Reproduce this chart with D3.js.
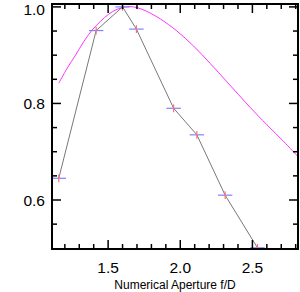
<html>
<head>
<script src="https://d3js.org/d3.v7.min.js"></script>
<style>
body { margin: 0; background: white; }
text { font-family: "Liberation Sans", Arial, sans-serif; fill: black; }
</style>
</head>
<body>
<svg id="chart" width="300" height="292"></svg>
<script>
// measured points (f/D, normalised value)
var ptX = [1.158, 1.417, 1.600, 1.696, 1.954, 2.115, 2.311, 2.535];
var ptY = [0.645, 0.951, 1.000, 0.954, 0.790, 0.735, 0.610, 0.501];
var errX = 0.05;
var errY = 0.008;

// model curve
var curveX = [1.158, 1.216, 1.274, 1.331, 1.389, 1.447, 1.504, 1.562, 1.620, 1.677, 1.735,
              1.793, 1.862, 1.977, 2.092, 2.207, 2.323, 2.484, 2.600, 2.714, 2.816];
var curveY = [0.842, 0.873, 0.900, 0.928, 0.952, 0.970, 0.985, 0.995, 1.000, 1.000, 0.995,
              0.987, 0.975, 0.950, 0.919, 0.883, 0.845, 0.792, 0.756, 0.722, 0.690];

var xMajor = [1.5, 2.0, 2.5];
var xMinor = [1.2, 1.3, 1.4, 1.6, 1.7, 1.8, 1.9, 2.1, 2.2, 2.3, 2.4, 2.6, 2.7, 2.8];
var yMajor = [0.6, 0.8, 1.0];
var yMinor = [0.55, 0.65, 0.7, 0.75, 0.85, 0.9, 0.95];

var L = 52, R = 298, T = 4, B = 249;
var x = d3.scaleLinear().domain([1.111, 2.816]).range([L, R]);
var y = d3.scaleLinear().domain([0.4985, 1.006]).range([B, T]);

var svg = d3.select('#chart');

svg.append('clipPath').attr('id', 'clip')
  .append('rect').attr('x', L).attr('y', T).attr('width', R - L).attr('height', B - T);

var plot = svg.append('g').attr('clip-path', 'url(#clip)');

plot.append('path')
  .datum(d3.range(curveX.length))
  .attr('fill', 'none')
  .attr('stroke', '#ff33ff')
  .attr('stroke-width', 1)
  .attr('d', d3.line().curve(d3.curveCatmullRom)
    .x(function(i){return x(curveX[i])}).y(function(i){return y(curveY[i])}));

plot.append('path')
  .datum(d3.range(ptX.length))
  .attr('fill', 'none')
  .attr('stroke', '#555')
  .attr('stroke-width', 0.8)
  .attr('d', d3.line().x(function(i){return x(ptX[i])}).y(function(i){return y(ptY[i])}));

var pts = plot.selectAll('.pt').data(d3.range(ptX.length)).enter().append('g');
pts.append('line')
  .attr('x1', function(i){return x(ptX[i] - errX)})
  .attr('x2', function(i){return x(ptX[i] + errX)})
  .attr('y1', function(i){return y(ptY[i])})
  .attr('y2', function(i){return y(ptY[i])})
  .attr('stroke', '#8080ff').attr('stroke-width', 1.2);
pts.append('line')
  .attr('x1', function(i){return x(ptX[i])})
  .attr('x2', function(i){return x(ptX[i])})
  .attr('y1', function(i){return y(ptY[i] - errY)})
  .attr('y2', function(i){return y(ptY[i] + errY)})
  .attr('stroke', '#ff7070').attr('stroke-width', 1.2);

// frame
var ax = svg.append('g').attr('stroke', 'black');
ax.append('rect').attr('x', L).attr('y', T).attr('width', R - L).attr('height', B - T)
  .attr('fill', 'none').attr('stroke-width', 2);

function xTicks(vals, len) {
  vals.forEach(function(v) {
    ax.append('line').attr('x1', x(v)).attr('x2', x(v)).attr('y1', B).attr('y2', B - len).attr('stroke-width', 1.5);
    ax.append('line').attr('x1', x(v)).attr('x2', x(v)).attr('y1', T).attr('y2', T + len).attr('stroke-width', 1.5);
  });
}
function yTicks(vals, len) {
  vals.forEach(function(v) {
    ax.append('line').attr('y1', y(v)).attr('y2', y(v)).attr('x1', L).attr('x2', L + len).attr('stroke-width', 1.5);
    ax.append('line').attr('y1', y(v)).attr('y2', y(v)).attr('x1', R).attr('x2', R - len).attr('stroke-width', 1.5);
  });
}
xTicks(xMajor, 9);
xTicks(xMinor, 5);
yTicks(yMajor, 9);
yTicks(yMinor, 5);

svg.selectAll('.xl').data(xMajor).enter().append('text')
  .attr('x', function(d){return x(d)})
  .attr('y', 273)
  .attr('text-anchor', 'middle')
  .style('font-size', '15.5px')
  .text(function(d){return d3.format('.1f')(d)});

svg.selectAll('.yl').data(yMajor).enter().append('text')
  .attr('x', 45)
  .attr('y', function(d){return Math.max(15, y(d) + 5.5)})
  .attr('text-anchor', 'end')
  .style('font-size', '15.5px')
  .text(function(d){return d3.format('.1f')(d)});

svg.append('text')
  .attr('x', 175)
  .attr('y', 289)
  .attr('text-anchor', 'middle')
  .style('font-size', '12px')
  .text('Numerical Aperture f/D');
</script>
</body>
</html>
